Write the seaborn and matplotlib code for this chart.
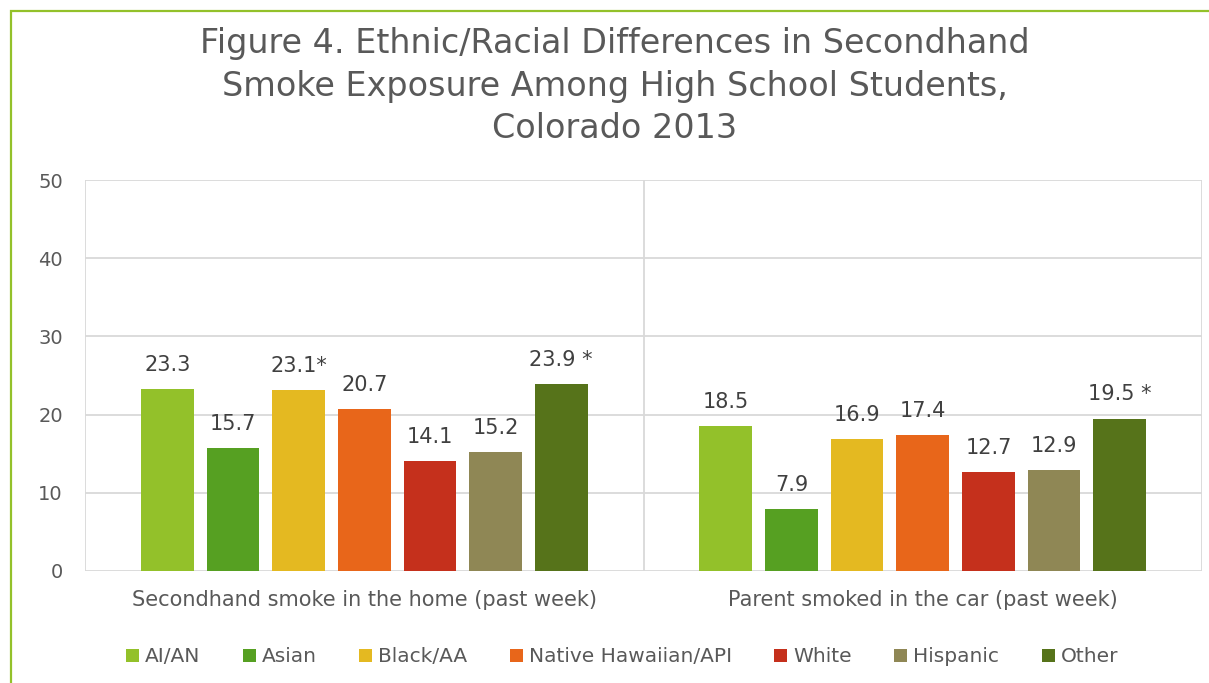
import matplotlib
matplotlib.use("Agg")
import matplotlib.pyplot as plt
import seaborn as sns
import pandas as pd
from matplotlib.patches import Patch, Rectangle

# ---- data ----
categories = ["Secondhand smoke in the home (past week)", "Parent smoked in the car (past week)"]
groups = ["AI/AN", "Asian", "Black/AA", "Native Hawaiian/API", "White", "Hispanic", "Other"]
home_values = [23.3, 15.7, 23.1, 20.7, 14.1, 15.2, 23.9]
car_values = [18.5, 7.9, 16.9, 17.4, 12.7, 12.9, 19.5]
home_labels = ["23.3", "15.7", "23.1*", "20.7", "14.1", "15.2", "23.9 *"]
car_labels = ["18.5", "7.9", "16.9", "17.4", "12.7", "12.9", "19.5 *"]
colors = ["#93C12A", "#56A022", "#E4B921", "#E8661A", "#C5301C", "#8F8755", "#56731A"]
title = "Figure 4. Ethnic/Racial Differences in Secondhand\nSmoke Exposure Among High School Students,\nColorado 2013"

df = pd.DataFrame({
    "category": [categories[0]] * len(groups) + [categories[1]] * len(groups),
    "group": groups + groups,
    "value": home_values + car_values,
    "label": home_labels + car_labels,
})

sns.set_theme(style="white")
plt.rcParams["font.family"] = ["DejaVu Sans"]

W, H = 1209, 683
fig = plt.figure(figsize=(W / 100, H / 100), dpi=100)
ax = fig.add_axes([85 / W, 1 - 571 / H, (1202 - 85) / W, (571 - 180) / H])

sns.barplot(data=df, x="category", y="value", hue="group", order=categories,
            hue_order=groups, palette=colors, width=0.823, gap=0.2,
            saturation=1, ax=ax, legend=False, edgecolor="none")

text_col = "#595959"
ax.set_ylim(0, 50)
ax.set_xlim(-0.5, 1.5)
ax.set_yticks([0, 10, 20, 30, 40, 50])
ax.set_xlabel("")
ax.set_ylabel("")
for s in ax.spines.values():
    s.set_visible(False)
ax.grid(False)
for yv in [0, 10, 20, 30, 40, 50]:
    ax.axhline(yv, color="#D9D9D9", lw=1.3, zorder=0)
for xv in [-0.5, 0.5, 1.5]:
    ax.axvline(xv, color="#D9D9D9", lw=1.3, zorder=0)
ax.tick_params(axis="y", length=0, pad=16, labelsize=14, labelcolor=text_col)
ax.tick_params(axis="x", length=0, pad=14, labelsize=15, labelcolor=text_col)

# data labels
for cont, grp in zip(ax.containers, groups):
    for ci, bar in enumerate(cont):
        lab = df[(df.category == categories[ci]) & (df.group == grp)]["label"].iloc[0]
        ax.annotate(lab, (bar.get_x() + bar.get_width() / 2, bar.get_height()),
                    xytext=(0, 13), textcoords="offset points", ha="center",
                    va="baseline", fontsize=15, color="#404040")

fig.text(615 / W, 1 - 27 / H, title, ha="center", va="top", fontsize=24,
         color=text_col, linespacing=1.37)

handles = [Patch(facecolor=c, edgecolor="none") for c in colors]
fig.legend(handles, groups, loc="center", bbox_to_anchor=(622 / W, 1 - 657 / H),
           ncol=7, frameon=False, fontsize=14.5, handlelength=0.65, handleheight=0.65,
           handletextpad=0.3, columnspacing=2.1, labelcolor=text_col)

fig.add_artist(Rectangle((11 / W, -0.1), 1.2, 1.1 - 11 / H, transform=fig.transFigure,
                         fill=False, edgecolor="#93C12A", lw=1.6))

fig.savefig("out.png", dpi=100, facecolor="white")
